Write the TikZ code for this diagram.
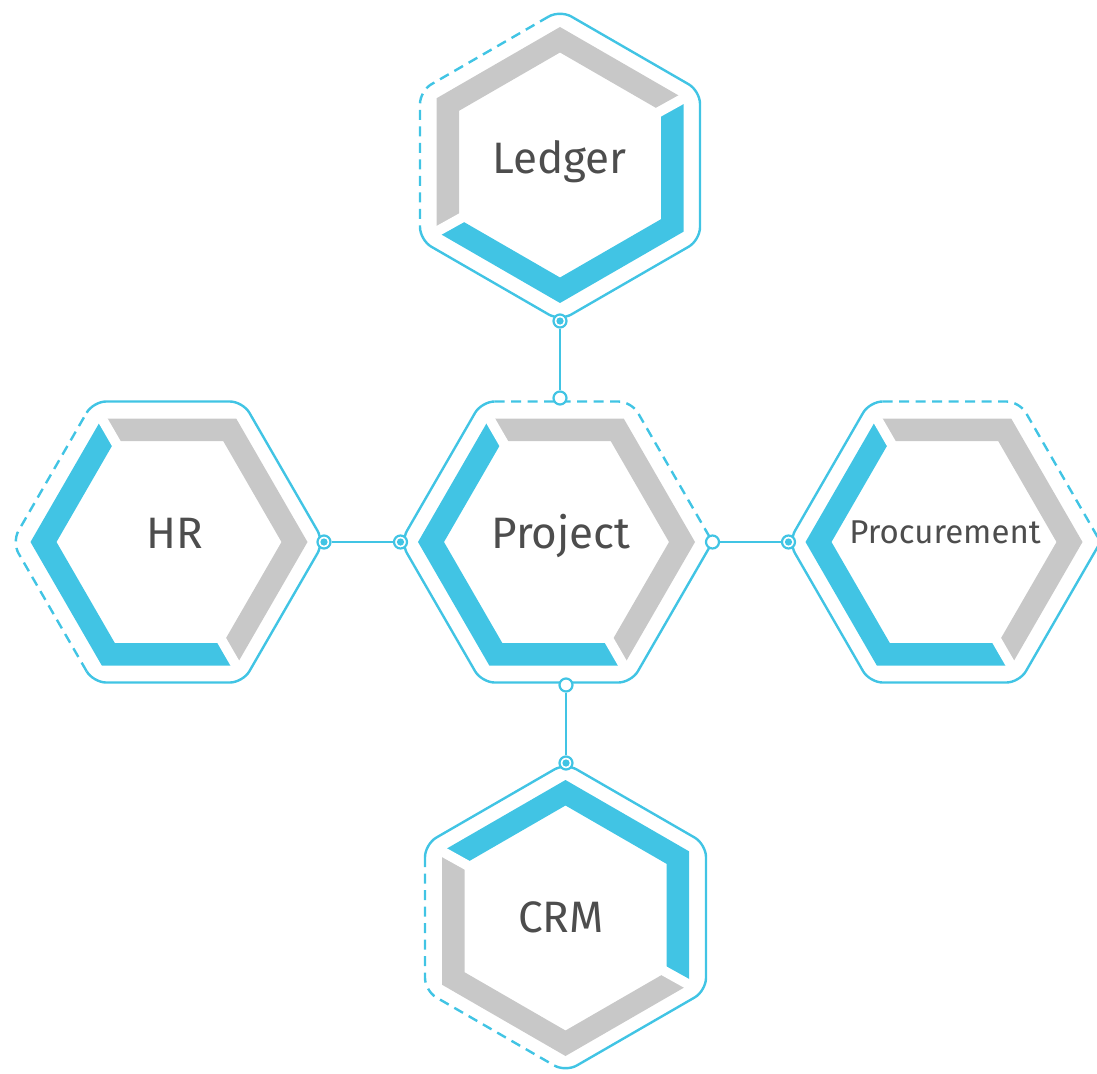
\documentclass[tikz,border=0pt]{standalone}
\usepackage{fontspec}
\setmainfont{Fira Sans}
\usetikzlibrary{calc}
\definecolor{hexblue}{RGB}{65,196,228}
\definecolor{hexgray}{RGB}{200,200,200}
\definecolor{txt}{RGB}{77,77,77}
% flat-top hexagon corners: name, cx, cy, vertex radius, apothem
\newcommand\defhexF[5]{%
  \pgfmathsetmacro\myhh{#4-#5/sqrt(3)}%
  \coordinate (#1-0) at (#2+#4,#3);
  \coordinate (#1-60) at (#2+\myhh,#3-#5);
  \coordinate (#1-120) at (#2-\myhh,#3-#5);
  \coordinate (#1-180) at (#2-#4,#3);
  \coordinate (#1-240) at (#2-\myhh,#3+#5);
  \coordinate (#1-300) at (#2+\myhh,#3+#5);
}
% pointy-top hexagon corners
\newcommand\defhexP[5]{%
  \pgfmathsetmacro\myhh{#4-#5/sqrt(3)}%
  \coordinate (#1-90) at (#2,#3-#4);
  \coordinate (#1-30) at (#2+#5,#3-\myhh);
  \coordinate (#1-150) at (#2-#5,#3-\myhh);
  \coordinate (#1-210) at (#2-#5,#3+\myhh);
  \coordinate (#1-270) at (#2,#3+#4);
  \coordinate (#1-330) at (#2+#5,#3+\myhh);
}
\newcommand\bandpart[6]{% colour, prefix, a, b, c, d
  \fill[#1] (#2o-#3) -- (#2o-#4) -- (#2o-#5) -- (#2o-#6) -- (#2i-#6) -- (#2i-#5) -- (#2i-#4) -- (#2i-#3) -- cycle;
}
\newcommand\bandgap[2]{% prefix, angle
  \draw[gapline] ($(#1o-#2)!-0.35!(#1i-#2)$) -- ($(#1i-#2)!-0.35!(#1o-#2)$);
}
\begin{document}
\begin{tikzpicture}[x=1pt,y=-1pt,
  gapline/.style={white, line width=10pt},
  outl/.style={draw=hexblue, line width=2.4pt, rounded corners=13pt, line join=round},
  dashl/.style={outl, dash pattern=on 10pt off 6.5pt},
  conn/.style={draw=hexblue, line width=2.2pt},
  openc/.style={circle, draw=hexblue, fill=white, line width=2.2pt, minimum size=13pt, inner sep=0pt},
  dotc/.style={openc, path picture={\fill[hexblue] (path picture bounding box.center) circle (3.6pt);}},
  hextext/.style={text=txt, font=\fontsize{44}{44}\selectfont, anchor=base, inner sep=0pt}
]
\useasboundingbox (0,0) rectangle (1097,1073);

% geometry
\defhexP{L}{560}{165.5}{155.5}{140}
\defhexP{Lo}{560}{165}{138}{123.5}
\defhexP{Li}{560}{165}{112.5}{101}

\defhexF{P}{556.5}{542}{156}{140.5}
\defhexF{Po}{556.5}{542}{138.5}{123.5}
\defhexF{Pi}{556.5}{542}{112.5}{101}

\defhexF{H}{168}{542}{156}{140.5}
\defhexF{Ho}{169}{542}{138.5}{123.5}
\defhexF{Hi}{169}{542}{112.5}{101}

\defhexF{R}{944.5}{542}{156}{140.5}
\defhexF{Ro}{944}{542}{138.5}{123.5}
\defhexF{Ri}{944}{542}{112.5}{101}

\defhexP{C}{565.5}{917.5}{154.5}{140.5}
\defhexP{Co}{565.5}{918}{138}{123.5}
\defhexP{Ci}{565.5}{918}{112.5}{101}

% bands
\bandpart{hexgray}{L}{30}{90}{150}{210}
\bandpart{hexblue}{L}{210}{270}{330}{30}
\bandgap{L}{30}\bandgap{L}{210}

\foreach \q in {P,H,R}{
  \bandpart{hexblue}{\q}{120}{180}{240}{300}
  \bandpart{hexgray}{\q}{300}{0}{60}{120}
  \bandgap{\q}{120}\bandgap{\q}{300}
}

\bandpart{hexblue}{C}{150}{90}{30}{330}
\bandpart{hexgray}{C}{150}{210}{270}{330}
\bandgap{C}{150}\bandgap{C}{330}

% outlines
\coordinate (Lds) at ($(L-90)!13pt!(L-150)$);
\coordinate (Lde) at ($(L-210)!13pt!(L-150)$);
\draw[dashl] (Lds) -- (L-150) -- (Lde);
\draw[outl] (Lde) -- (L-210) -- (L-270) -- (L-330) -- (L-30) -- (L-90) -- (Lds);

\coordinate (Pds) at ($(P-120)!13pt!(P-60)$);
\draw[dashl] (Pds) -- (P-60) -- (P-0);
\draw[outl] (P-0) -- (P-300) -- (P-240) -- (P-180) -- (P-120) -- (Pds);

\coordinate (Rds) at ($(R-120)!13pt!(R-60)$);
\draw[dashl] (Rds) -- (R-60) -- (R-0);
\draw[outl] (R-0) -- (R-300) -- (R-240) -- (R-180) -- (R-120) -- (Rds);

\coordinate (Hds) at ($(H-240)!13pt!(H-180)$);
\coordinate (Hde) at ($(H-120)!13pt!(H-180)$);
\draw[dashl] (Hds) -- (H-180) -- (Hde);
\draw[outl] (Hde) -- (H-120) -- (H-60) -- (H-0) -- (H-300) -- (H-240) -- (Hds);

\coordinate (Cds) at ($(C-150)!13pt!(C-210)$);
\coordinate (Cde) at ($(C-270)!13pt!(C-210)$);
\draw[dashl] (Cds) -- (C-210) -- (Cde);
\draw[outl] (Cde) -- (C-270) -- (C-330) -- (C-30) -- (C-90) -- (C-150) -- (Cds);

% connection points
\node[dotc] (Ldot) at (L-270) {};
\node[openc] (Ptop) at (560,398) {};
\node[dotc] (Hdot) at (H-0) {};
\node[dotc] (Pleft) at (P-180) {};
\node[openc] (Pright) at (P-0) {};
\node[dotc] (Rdot) at (R-180) {};
\node[openc] (Pbot) at (566,685) {};
\node[dotc] (Cdot) at (566,763) {};

\draw[conn] (Ldot) -- (Ptop);
\draw[conn] (Hdot) -- (Pleft);
\draw[conn] (Pright) -- (Rdot);
\draw[conn] (Pbot) -- (Cdot);

% labels
\node[hextext] (tL) at (559.5,173) {Ledger};
\node[hextext] (tP) at (561,548) {Project};
\node[hextext] (tH) at (175,548) {HR};
\node[hextext, font=\fontsize{33}{33}\selectfont] (tR) at (945,543) {Procurement};
\node[hextext] (tC) at (561,932) {CRM};
\end{tikzpicture}
\end{document}
